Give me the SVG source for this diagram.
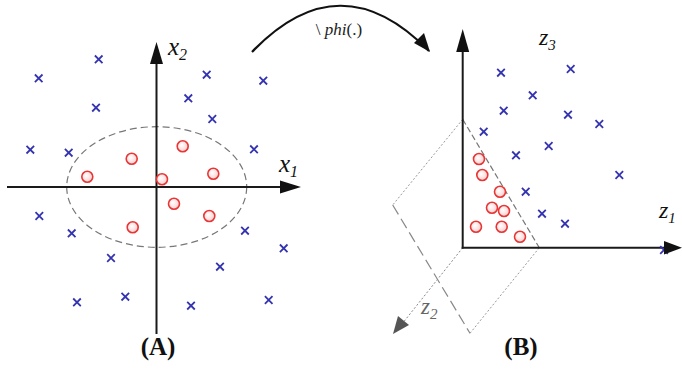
<svg xmlns="http://www.w3.org/2000/svg" width="682" height="370" viewBox="0 0 682 370">
<style>
.ax{stroke:#1a1a1a;stroke-width:2;fill:none}
.x{stroke:#3434b0;stroke-width:1.8;fill:none}
.o{stroke:#e83535;stroke-width:1.6;fill:url(#og)}
.lbl{font-family:"Liberation Serif","Times New Roman",serif;font-style:italic;fill:#111}
.cap{font-family:"Liberation Serif","Times New Roman",serif;font-weight:bold;font-size:25px;fill:#111;text-anchor:middle}
</style>
<defs>
<radialGradient id="og" cx="0.4" cy="0.4" r="0.6"><stop offset="0" stop-color="#fff"/><stop offset="1" stop-color="#fbd0d0"/></radialGradient>
<path id="cr" d="M-3.8,-3.8L3.8,3.8M3.8,-3.8L-3.8,3.8" class="x"/>
<circle id="ci" r="5.5" class="o"/>
</defs>

<!-- Panel A -->
<g id="panelA">
<ellipse cx="156.7" cy="187" rx="90" ry="60.3" fill="none" stroke="#777" stroke-width="1.2" stroke-dasharray="7 4"/>
<line class="ax" x1="7" y1="187" x2="282" y2="187"/>
<path d="M280,180.5L301,187L280,193.5z" fill="#111"/>
<line class="ax" x1="156.5" y1="334" x2="156.5" y2="62"/>
<path d="M150,64L156.5,42L163,64z" fill="#111"/>
<text class="lbl" x="168" y="55" font-size="25">x<tspan font-size="16" dy="5">2</tspan></text>
<text class="lbl" x="279" y="172" font-size="25">x<tspan font-size="16" dy="5">1</tspan></text>
<g>
<use href="#cr" x="98.7" y="59.3"/><use href="#cr" x="38.7" y="78.3"/><use href="#cr" x="206.7" y="74.7"/>
<use href="#cr" x="263.3" y="80.7"/><use href="#cr" x="188.3" y="98.3"/><use href="#cr" x="96" y="107.7"/>
<use href="#cr" x="212.3" y="119"/><use href="#cr" x="30.3" y="149.7"/><use href="#cr" x="68.7" y="152.7"/>
<use href="#cr" x="254" y="149.3"/><use href="#cr" x="39.3" y="216"/><use href="#cr" x="71.7" y="233.3"/>
<use href="#cr" x="245" y="230.7"/><use href="#cr" x="283.7" y="248.3"/><use href="#cr" x="111" y="258"/>
<use href="#cr" x="220" y="266.7"/><use href="#cr" x="77" y="302.3"/><use href="#cr" x="125.3" y="296.7"/>
<use href="#cr" x="191" y="305.7"/><use href="#cr" x="268.7" y="300"/>
</g>
<g>
<use href="#ci" x="87.3" y="176.7"/><use href="#ci" x="131.7" y="158.7"/><use href="#ci" x="182.7" y="146.3"/>
<use href="#ci" x="162" y="179.3"/><use href="#ci" x="213.3" y="173.7"/><use href="#ci" x="174" y="203.7"/>
<use href="#ci" x="209.3" y="216"/><use href="#ci" x="132.7" y="227.3"/>
</g>
<text class="cap" x="158" y="355">(A)</text>
</g>

<!-- mapping arrow -->
<g id="connectors">
<path d="M252,52 Q340,-40 429,51" fill="none" stroke="#111" stroke-width="2.2"/>
<path d="M414,43L430,52L424,33z" fill="#111"/>
<text x="339" y="35" font-family="Liberation Serif,Times New Roman,serif" font-size="17" fill="#222" text-anchor="middle">\ <tspan font-style="italic">phi</tspan>(.)</text>
</g>

<!-- Panel B -->
<g id="panelB">
<path d="M462.7,119.3L539.3,247.7" fill="none" stroke="#777" stroke-width="1.2" stroke-dasharray="6 3"/>
<path d="M462.7,119.3L392.7,205" fill="none" stroke="#999" stroke-width="1" stroke-dasharray="2 2"/>
<path d="M392.7,205L470,333.3" fill="none" stroke="#888" stroke-width="1.2" stroke-dasharray="11 5"/>
<path d="M470,333.3L539.3,247.7" fill="none" stroke="#999" stroke-width="1" stroke-dasharray="2 2"/>
<path d="M462.7,247.7L402,324" fill="none" stroke="#888" stroke-width="1" stroke-dasharray="2 2"/>
<path d="M393,334L398,316L409,325z" fill="#555"/>
<text x="421" y="314" font-family="Liberation Serif,Times New Roman,serif" font-style="italic" font-size="23" fill="#666">z<tspan font-size="15" dy="5">2</tspan></text>
<line class="ax" x1="462.7" y1="248.5" x2="462.7" y2="50"/>
<path d="M456.2,52L462.7,29L469.2,52z" fill="#111"/>
<line class="ax" x1="461.7" y1="247.7" x2="666" y2="247.7"/>
<text class="lbl" x="539" y="45" font-size="24">z<tspan font-size="15" dy="5">3</tspan></text>
<text class="lbl" x="659" y="218" font-size="24">z<tspan font-size="15" dy="5">1</tspan></text>
<g>
<use href="#cr" x="501" y="72.7"/><use href="#cr" x="570.7" y="69"/><use href="#cr" x="532.7" y="95.3"/>
<use href="#cr" x="503.7" y="110.7"/><use href="#cr" x="568" y="114.7"/><use href="#cr" x="599.3" y="124"/>
<use href="#cr" x="483.7" y="131.7"/><use href="#cr" x="548.7" y="146"/><use href="#cr" x="516" y="155.3"/>
<use href="#cr" x="619.3" y="175"/><use href="#cr" x="525.7" y="191.7"/><use href="#cr" x="542" y="213.7"/>
<use href="#cr" x="565" y="223.7"/><use href="#cr" x="664" y="250"/>
</g>
<path d="M664,241L682,247.7L664,254.4z" fill="#111"/>
<g>
<use href="#ci" x="479" y="159"/><use href="#ci" x="482.3" y="175"/><use href="#ci" x="500" y="191.7"/>
<use href="#ci" x="492" y="207.7"/><use href="#ci" x="504" y="211"/><use href="#ci" x="476" y="226.7"/>
<use href="#ci" x="501.7" y="226.7"/><use href="#ci" x="520" y="236.7"/>
</g>
<text class="cap" x="521" y="355">(B)</text>
</g>
</svg>
